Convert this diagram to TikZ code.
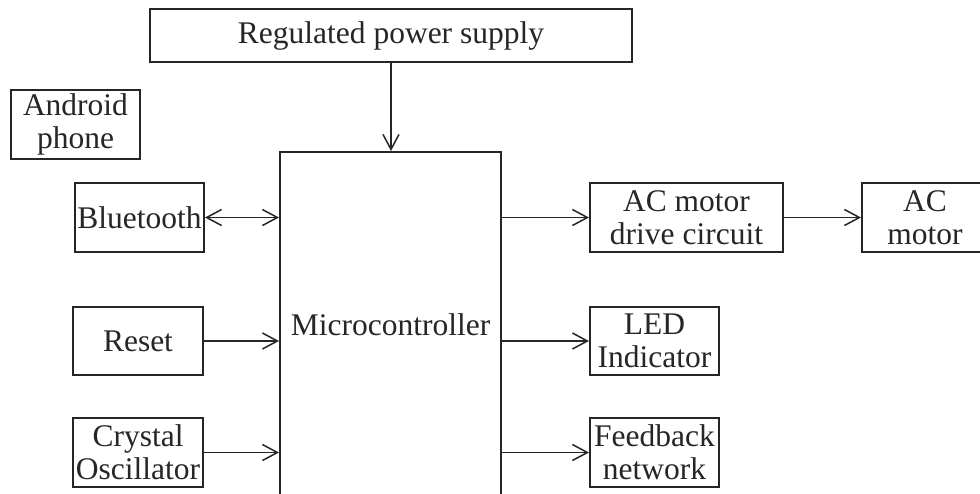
\documentclass[tikz,border=0pt]{standalone}
\usepackage{fontspec}
\setmainfont{Liberation Serif}
\usetikzlibrary{arrows.meta}
\begin{document}
\begin{tikzpicture}[x=1pt,y=-1pt,
  blk/.style={draw=black!85, line width=2pt, inner sep=0pt, align=center,
    font=\fontsize{31.5}{33}\selectfont, text=black!85},
  conn/.style={draw=black!85, line width=1.8pt},
  arr/.style={conn, -{Straight Barb[length=15pt,width=16pt,line width=1.5pt]}},
  darr/.style={conn, {Straight Barb[length=15pt,width=16pt,line width=1.5pt]}-{Straight Barb[length=15pt,width=16pt,line width=1.5pt]}}]
\useasboundingbox (0,0) rectangle (980,493);
\fill[white] (0,0) rectangle (980,493);
\clip (0,0) rectangle (980,493);
\node[blk, minimum width=482pt, minimum height=53pt] (psu) at (391,35.5) {Regulated power supply};
\node[blk, minimum width=129pt, minimum height=69pt] (android) at (75.5,124) {Android\\phone};
\node[blk, minimum width=129pt, minimum height=69pt] (bt) at (139.5,217.5) {Bluetooth};
\node[blk, minimum width=130pt, minimum height=68pt] (reset) at (138,341) {Reset};
\node[blk, minimum width=130pt, minimum height=69pt] (xtal) at (138,452.5) {Crystal\\Oscillator};
\node[blk, minimum width=221pt, minimum height=346pt] (micro) at (390.5,325) {Microcontroller};
\node[blk, minimum width=193pt, minimum height=69pt] (acd) at (686.5,217.5) {AC motor\\drive circuit};
\node[blk, minimum width=126pt, minimum height=69pt] (acm) at (925,217.5) {AC\\motor};
\node[blk, minimum width=129pt, minimum height=68pt] (led) at (654.5,341) {LED\\Indicator};
\node[blk, minimum width=129pt, minimum height=69pt] (fb) at (654.5,452.5) {Feedback\\network};
\draw[arr] (psu.south) -- (psu.south |- micro.north);
\draw[darr] (bt.east) -- (bt.east -| micro.west);
\draw[arr] (reset.east) -- (reset.east -| micro.west);
\draw[arr] (xtal.east) -- (xtal.east -| micro.west);
\draw[arr] (micro.east |- acd.west) -- (acd.west);
\draw[arr] (acd.east) -- (acm.west);
\draw[arr] (micro.east |- led.west) -- (led.west);
\draw[arr] (micro.east |- fb.west) -- (fb.west);
\end{tikzpicture}
\end{document}
